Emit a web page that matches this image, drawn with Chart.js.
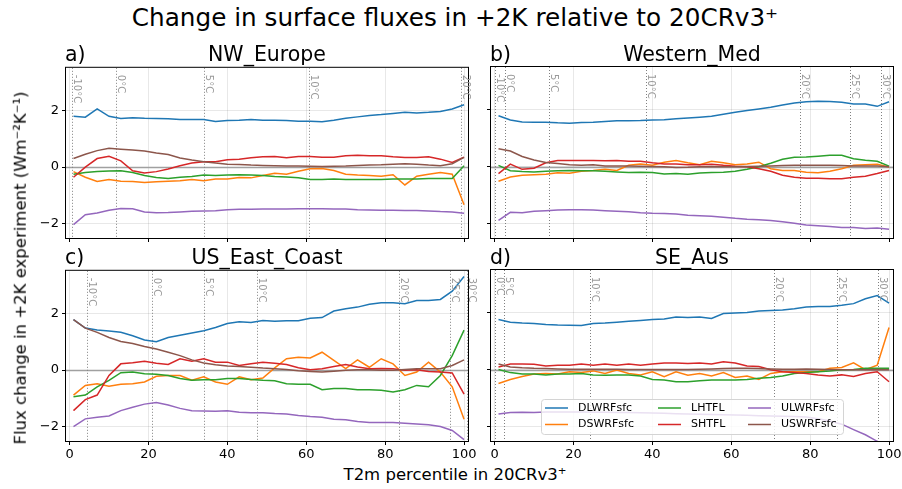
<!DOCTYPE html>
<html>
<head>
<meta charset="utf-8">
<title>Change in surface fluxes in +2K relative to 20CRv3+</title>
<script src="https://cdn.jsdelivr.net/npm/chart.js@4.4.1/dist/chart.umd.min.js"></script>
<style>
  body { margin: 0; background: #fff; }
  #fig { position: relative; width: 902px; height: 489px; overflow: hidden; font-family: 'DejaVu Sans', sans-serif; color: #000; }
  #fig canvas { position: absolute; }
  .txt { position: absolute; white-space: nowrap; line-height: 1; }
</style>
</head>
<body>
<div id="fig">
  <div class="txt" style="left:455px;top:6px;font-size:24.7px;transform:translateX(-50%)">Change in surface fluxes in +2K relative to 20CRv3⁺</div>

  <div class="txt" style="left:65px;top:43.7px;font-size:20.5px">a)</div>
  <div class="txt" style="left:267px;top:43.7px;font-size:20.5px;transform:translateX(-50%)">NW_Europe</div>
  <div class="txt" style="left:490px;top:43.7px;font-size:20.5px">b)</div>
  <div class="txt" style="left:692px;top:43.7px;font-size:20.5px;transform:translateX(-50%)">Western_Med</div>
  <div class="txt" style="left:65px;top:247.2px;font-size:20.5px">c)</div>
  <div class="txt" style="left:267px;top:247.2px;font-size:20.5px;transform:translateX(-50%)">US_East_Coast</div>
  <div class="txt" style="left:490px;top:247.2px;font-size:20.5px">d)</div>
  <div class="txt" style="left:692px;top:247.2px;font-size:20.5px;transform:translateX(-50%)">SE_Aus</div>

  <div class="txt" style="left:21px;top:268px;font-size:16.5px;transform:translate(-50%,-50%) rotate(-90deg)">Flux change in +2K experiment (Wm⁻²K⁻¹)</div>
  <div class="txt" style="left:455px;top:467px;font-size:16.5px;transform:translateX(-50%)">T2m percentile in 20CRv3⁺</div>
</div>

<script>
// percentiles of T2m (x) shared by every series
const PCT = [1,4,7,10,13,16,19,22,25,28,31,34,37,40,43,46,49,52,55,58,61,64,67,70,73,76,79,82,85,88,91,94,97,100];
const XTICKS = [0,20,40,60,80,100];
const YTICKS = [-2,0,2];
const LABELS = ['DLWRFsfc','DSWRFsfc','LHTFL','SHTFL','ULWRFsfc','USWRFsfc'];
const COLORS = ['#1f77b4','#ff7f0e','#2ca02c','#d62728','#9467bd','#8c564b'];

// a) NW_Europe
const nwEuropeDLWRF = [1.79,1.76,2.05,1.79,1.71,1.74,1.72,1.71,1.70,1.68,1.68,1.68,1.61,1.64,1.65,1.68,1.65,1.65,1.64,1.62,1.62,1.60,1.65,1.72,1.77,1.82,1.85,1.89,1.93,1.91,1.93,1.96,2.05,2.20];
const nwEuropeDSWRF = [-0.16,-0.36,-0.51,-0.44,-0.50,-0.51,-0.54,-0.52,-0.50,-0.48,-0.44,-0.48,-0.42,-0.42,-0.37,-0.38,-0.30,-0.22,-0.25,-0.15,-0.06,-0.05,-0.12,-0.25,-0.28,-0.30,-0.32,-0.27,-0.63,-0.32,-0.25,-0.19,-0.25,-1.33];
const nwEuropeLHTFL = [-0.25,-0.19,-0.16,-0.14,-0.13,-0.19,-0.30,-0.37,-0.40,-0.36,-0.33,-0.28,-0.30,-0.28,-0.27,-0.28,-0.30,-0.33,-0.35,-0.38,-0.44,-0.44,-0.42,-0.44,-0.44,-0.44,-0.44,-0.42,-0.42,-0.42,-0.40,-0.40,-0.40,0.05];
const nwEuropeSHTFL = [-0.36,0.00,0.30,0.38,0.22,-0.13,-0.21,-0.16,-0.07,0.05,0.14,0.19,0.19,0.26,0.28,0.33,0.36,0.37,0.33,0.37,0.37,0.35,0.35,0.40,0.42,0.40,0.40,0.36,0.34,0.34,0.36,0.28,0.16,0.35];
const nwEuropeULWRF = [-2.03,-1.68,-1.62,-1.52,-1.46,-1.47,-1.58,-1.61,-1.60,-1.58,-1.56,-1.55,-1.54,-1.50,-1.49,-1.49,-1.48,-1.48,-1.48,-1.47,-1.47,-1.47,-1.48,-1.48,-1.50,-1.51,-1.52,-1.52,-1.53,-1.53,-1.55,-1.57,-1.58,-1.63];
const nwEuropeUSWRF = [0.30,0.45,0.58,0.66,0.63,0.60,0.57,0.50,0.44,0.32,0.25,0.19,0.14,0.10,0.09,0.07,0.06,0.05,0.04,0.04,0.03,0.02,0.03,0.04,0.06,0.07,0.08,0.10,0.12,0.10,0.07,0.05,0.12,0.34];
const nwEuropeTempPct = [0.7,11.7,34.2,60.8,99.1];
const nwEuropeTempLab = ['-10°C','0°C','5°C','10°C','20°C'];

// b) Western_Med
const westMedDLWRF = [1.79,1.64,1.57,1.56,1.56,1.54,1.53,1.55,1.56,1.59,1.61,1.61,1.62,1.64,1.65,1.68,1.71,1.74,1.77,1.84,1.91,1.97,2.03,2.09,2.17,2.24,2.28,2.30,2.29,2.26,2.20,2.20,2.12,2.28];
const westMedDSWRF = [-0.51,-0.36,-0.30,-0.28,-0.26,-0.21,-0.23,-0.16,-0.13,-0.09,-0.13,0.05,0.10,0.05,0.16,0.22,0.14,0.07,0.19,0.14,0.07,0.10,0.16,-0.07,-0.13,-0.13,-0.19,-0.21,-0.16,-0.07,0.05,0.07,0.09,-0.01];
const westMedLHTFL = [0.05,-0.14,-0.17,-0.18,-0.16,-0.14,-0.13,-0.14,-0.14,-0.16,-0.18,-0.20,-0.19,-0.20,-0.25,-0.24,-0.26,-0.22,-0.20,-0.19,-0.16,-0.09,0.00,0.12,0.26,0.33,0.34,0.37,0.40,0.40,0.28,0.23,0.19,0.02];
const westMedSHTFL = [-0.24,0.09,-0.09,-0.05,0.14,0.22,0.22,0.22,0.22,0.21,0.22,0.19,0.19,0.14,0.10,0.10,0.07,0.07,0.09,0.05,0.02,0.00,-0.07,-0.16,-0.30,-0.37,-0.40,-0.40,-0.42,-0.42,-0.37,-0.33,-0.24,-0.13];
const westMedULWRF = [-1.88,-1.60,-1.61,-1.56,-1.54,-1.52,-1.51,-1.51,-1.52,-1.54,-1.56,-1.58,-1.61,-1.63,-1.64,-1.66,-1.70,-1.72,-1.74,-1.77,-1.81,-1.84,-1.86,-1.89,-1.93,-1.98,-2.04,-2.07,-2.10,-2.13,-2.13,-2.17,-2.15,-2.19];
const westMedUSWRF = [0.63,0.55,0.36,0.24,0.15,0.11,0.07,0.05,0.07,0.03,0.03,0.03,0.02,0.01,0.00,-0.03,-0.02,0.00,0.01,0.00,0.00,0.01,0.02,0.03,0.04,0.05,0.05,0.05,0.05,0.04,0.03,0.03,0.03,0.00];
const westMedTempPct = [0.2,2.7,13.7,38.4,77.5,90.2,98.0];
const westMedTempLab = ['-10°C','0°C','5°C','10°C','20°C','25°C','30°C'];

// c) US_East_Coast
const usEastDLWRF = [1.78,1.48,1.41,1.38,1.33,1.21,1.06,1.00,1.15,1.23,1.31,1.39,1.50,1.64,1.70,1.68,1.75,1.72,1.74,1.74,1.83,1.85,2.08,2.16,2.22,2.32,2.37,2.37,2.34,2.45,2.45,2.49,2.78,3.30];
const usEastDSWRF = [-0.88,-0.54,-0.48,-0.57,-0.50,-0.48,-0.42,-0.22,-0.19,-0.19,-0.36,-0.24,-0.42,-0.50,-0.24,-0.34,-0.28,0.08,0.40,0.45,0.43,0.63,0.34,0.05,0.36,0.10,0.40,0.22,-0.19,-0.07,0.28,-0.07,-0.59,-1.73];
const usEastLHTFL = [-0.94,-0.88,-0.59,-0.36,-0.09,-0.07,-0.13,-0.15,-0.19,-0.30,-0.36,-0.34,-0.34,-0.30,-0.30,-0.33,-0.36,-0.38,-0.48,-0.50,-0.50,-0.69,-0.65,-0.65,-0.69,-0.69,-0.71,-0.77,-0.69,-0.54,-0.59,-0.19,0.51,1.41];
const usEastSHTFL = [-1.43,-1.04,-0.88,-0.19,0.22,0.26,0.31,0.24,0.20,0.40,0.31,0.40,0.28,0.28,0.16,0.22,0.28,0.24,0.20,0.08,0.01,0.05,0.13,0.20,0.11,0.05,0.06,0.05,-0.01,0.01,-0.05,-0.07,-0.10,-0.85];
const usEastULWRF = [-1.99,-1.72,-1.66,-1.62,-1.43,-1.31,-1.20,-1.14,-1.23,-1.35,-1.43,-1.44,-1.45,-1.43,-1.49,-1.50,-1.50,-1.53,-1.55,-1.60,-1.64,-1.66,-1.73,-1.75,-1.81,-1.85,-1.85,-1.85,-1.87,-1.90,-1.93,-1.99,-2.13,-2.45];
const usEastUSWRF = [1.78,1.48,1.33,1.15,1.01,0.94,0.83,0.74,0.63,0.51,0.36,0.25,0.19,0.14,0.13,0.10,0.07,0.05,0.02,-0.02,-0.05,-0.07,-0.04,-0.01,0.01,0.01,-0.01,-0.01,0.02,0.05,0.05,0.05,0.16,0.36];
const usEastTempPct = [4.3,21.0,34.2,47.4,83.5,96.5,100.8];
const usEastTempLab = ['-10°C','0°C','5°C','10°C','20°C','25°C','30°C'];

// d) SE_Aus
const seAusDLWRF = [1.76,1.67,1.64,1.62,1.59,1.57,1.56,1.55,1.62,1.64,1.67,1.70,1.73,1.76,1.78,1.85,1.83,1.85,1.80,1.97,1.99,2.01,2.06,2.08,2.10,2.14,2.20,2.22,2.22,2.26,2.32,2.49,2.60,2.34];
const seAusDSWRF = [-0.48,-0.34,-0.24,-0.15,-0.13,-0.15,-0.07,-0.10,-0.04,-0.13,-0.01,-0.13,-0.18,-0.07,-0.24,-0.07,-0.19,-0.13,-0.22,-0.10,-0.27,-0.22,-0.34,-0.13,-0.07,-0.07,-0.07,-0.07,0.05,0.08,0.24,0.00,0.16,1.48];
const seAusLHTFL = [0.01,-0.10,-0.15,-0.15,-0.18,-0.15,-0.15,-0.13,-0.18,-0.19,-0.18,-0.18,-0.22,-0.34,-0.36,-0.42,-0.42,-0.39,-0.36,-0.36,-0.36,-0.34,-0.30,-0.27,-0.22,-0.13,-0.10,-0.07,-0.04,0.00,0.01,0.05,0.05,0.05];
const seAusSHTFL = [0.10,0.20,0.20,0.19,0.13,0.16,0.16,0.20,0.16,0.20,0.16,0.20,0.16,0.20,0.24,0.24,0.22,0.24,0.20,0.28,0.24,0.13,0.11,0.00,-0.07,-0.10,-0.13,-0.18,-0.22,-0.18,-0.24,-0.13,-0.07,-0.42];
const seAusULWRF = [-1.55,-1.50,-1.49,-1.50,-1.48,-1.48,-1.48,-1.48,-1.49,-1.49,-1.50,-1.50,-1.51,-1.52,-1.53,-1.54,-1.55,-1.56,-1.57,-1.58,-1.59,-1.60,-1.61,-1.62,-1.63,-1.64,-1.66,-1.72,-1.80,-1.91,-2.10,-2.28,-2.51,-2.70];
const seAusUSWRF = [0.20,0.10,0.07,0.05,0.04,0.03,0.02,0.02,0.02,0.02,0.02,0.01,0.01,0.01,0.01,0.01,0.01,0.02,0.03,0.04,0.05,0.05,0.04,0.03,0.02,0.02,0.03,0.02,0.01,0.00,0.00,0.00,0.01,0.00];
const seAusTempPct = [0.2,2.5,24.3,70.9,86.7,97.2];
const seAusTempLab = ['0°C','5°C','10°C','20°C','25°C','30°C'];

Chart.defaults.font.family = "'DejaVu Sans', sans-serif";

// plot box of each panel on the page
const YW = 46, XH = 24, PT = 10, PR = 16, PW = 402, PH = 171;

const panels = [
  { key: 'a', left: 66,  top: 67,  showX: false, showY: true,  legend: false,
    series: [nwEuropeDLWRF, nwEuropeDSWRF, nwEuropeLHTFL, nwEuropeSHTFL, nwEuropeULWRF, nwEuropeUSWRF],
    tempPct: nwEuropeTempPct, tempLab: nwEuropeTempLab },
  { key: 'b', left: 491, top: 67,  showX: false, showY: false, legend: false,
    series: [westMedDLWRF, westMedDSWRF, westMedLHTFL, westMedSHTFL, westMedULWRF, westMedUSWRF],
    tempPct: westMedTempPct, tempLab: westMedTempLab },
  { key: 'c', left: 66,  top: 270, showX: true,  showY: true,  legend: false,
    series: [usEastDLWRF, usEastDSWRF, usEastLHTFL, usEastSHTFL, usEastULWRF, usEastUSWRF],
    tempPct: usEastTempPct, tempLab: usEastTempLab },
  { key: 'd', left: 491, top: 270, showX: true,  showY: false, legend: true,
    series: [seAusDLWRF, seAusDSWRF, seAusLHTFL, seAusSHTFL, seAusULWRF, seAusUSWRF],
    tempPct: seAusTempPct, tempLab: seAusTempLab }
];

function decor(p) {
  return {
    id: 'decor' + p.key,
    beforeDatasetsDraw(chart) {
      const { ctx, chartArea: a, scales: { x, y } } = chart;
      ctx.save();
      ctx.beginPath();
      ctx.rect(a.left, a.top, a.right - a.left, a.bottom - a.top);
      ctx.clip();
      // zero line
      const y0 = Math.round(y.getPixelForValue(0)) + 0.5;
      ctx.strokeStyle = '#a0a0a0';
      ctx.lineWidth = 1.6;
      ctx.beginPath(); ctx.moveTo(a.left, y0); ctx.lineTo(a.right, y0); ctx.stroke();
      // temperature markers
      ctx.strokeStyle = '#808080';
      ctx.lineWidth = 1;
      ctx.setLineDash([1, 2]);
      p.tempPct.forEach(t => {
        const px = Math.round(x.getPixelForValue(t)) + 0.5;
        ctx.beginPath(); ctx.moveTo(px, a.top); ctx.lineTo(px, a.bottom); ctx.stroke();
      });
      ctx.restore();
    },
    afterDatasetsDraw(chart) {
      if (!p.legend) return;
      const { ctx, chartArea: a } = chart;
      const bx = a.left + 50, by = a.top + 129, bw = 302, bh = 35;
      ctx.save();
      ctx.beginPath();
      ctx.roundRect(bx + 0.5, by + 0.5, bw, bh, 3);
      ctx.fillStyle = 'rgba(255,255,255,0.8)';
      ctx.fill();
      ctx.strokeStyle = '#d4d4d4';
      ctx.lineWidth = 1;
      ctx.stroke();
      ctx.font = "11px 'DejaVu Sans'";
      ctx.textBaseline = 'middle';
      ctx.textAlign = 'left';
      const colX = [4, 117, 207];
      LABELS.forEach((lab, i) => {
        const col = Math.floor(i / 2), row = i % 2;
        const lx = bx + colX[col], ly = by + 9 + row * 16.5;
        ctx.strokeStyle = COLORS[i];
        ctx.lineWidth = 1.5;
        ctx.beginPath(); ctx.moveTo(lx, ly); ctx.lineTo(lx + 23, ly); ctx.stroke();
        ctx.fillStyle = '#000';
        ctx.fillText(lab, lx + 33, ly);
      });
      ctx.restore();
    },
    afterDraw(chart) {
      const { ctx, chartArea: a, scales: { x } } = chart;
      ctx.save();
      ctx.strokeStyle = '#000';
      ctx.lineWidth = 1;
      ctx.strokeRect(a.left - 0.5, a.top - 0.5, a.right - a.left + 1, a.bottom - a.top + 1);
      ctx.fillStyle = '#999';
      ctx.font = "10px 'DejaVu Sans'";
      ctx.textBaseline = 'alphabetic';
      ctx.textAlign = 'left';
      p.tempPct.forEach((t, i) => {
        const px = x.getPixelForValue(t);
        ctx.save();
        ctx.translate(px + 2, a.top + 7);
        ctx.rotate(Math.PI / 2);
        ctx.fillText(p.tempLab[i], 0, 0);
        ctx.restore();
      });
      ctx.restore();
    }
  };
}

const fig = document.getElementById('fig');

panels.forEach(p => {
  const cv = document.createElement('canvas');
  cv.width = YW + PW + PR;
  cv.height = PT + PH + XH;
  cv.style.width = cv.width + 'px';
  cv.style.height = cv.height + 'px';
  cv.style.left = (p.left - YW) + 'px';
  cv.style.top = (p.top - PT) + 'px';
  fig.insertBefore(cv, fig.firstChild);

  new Chart(cv, {
    type: 'line',
    data: {
      datasets: LABELS.map((lab, i) => ({
        label: lab,
        data: PCT.map((v, j) => ({ x: v, y: p.series[i][j] })),
        borderColor: COLORS[i],
        backgroundColor: COLORS[i],
        borderWidth: 1.5,
        pointRadius: 0,
        tension: 0,
        fill: false,
        order: LABELS.length - i
      }))
    },
    options: {
      responsive: false,
      animation: false,
      devicePixelRatio: 1,
      layout: { padding: { top: PT, right: PR, left: 0, bottom: 0 } },
      plugins: { legend: { display: false }, tooltip: { enabled: false } },
      scales: {
        x: {
          type: 'linear', min: -0.9, max: 101,
          afterBuildTicks: s => { s.ticks = XTICKS.map(v => ({ value: v })); },
          afterFit: s => { s.height = XH; },
          ticks: { display: p.showX, color: '#000', font: { size: 13 }, padding: 2, maxRotation: 0, autoSkip: false },
          grid: { color: 'rgba(0,0,0,0.09)', lineWidth: 1, tickLength: 4, tickColor: '#000' },
          border: { display: false }
        },
        y: {
          type: 'linear', min: -2.5, max: 3.5,
          afterBuildTicks: s => { s.ticks = YTICKS.map(v => ({ value: v })); },
          afterFit: s => { s.width = YW; },
          ticks: { display: p.showY, color: '#000', font: { size: 13 }, padding: 3,
                   callback: v => String(v).replace('-', '\u2212') },
          grid: { color: 'rgba(0,0,0,0.09)', lineWidth: 1, tickLength: 4, tickColor: '#000' },
          border: { display: false }
        }
      }
    },
    plugins: [decor(p)]
  });
});
</script>
</body>
</html>
